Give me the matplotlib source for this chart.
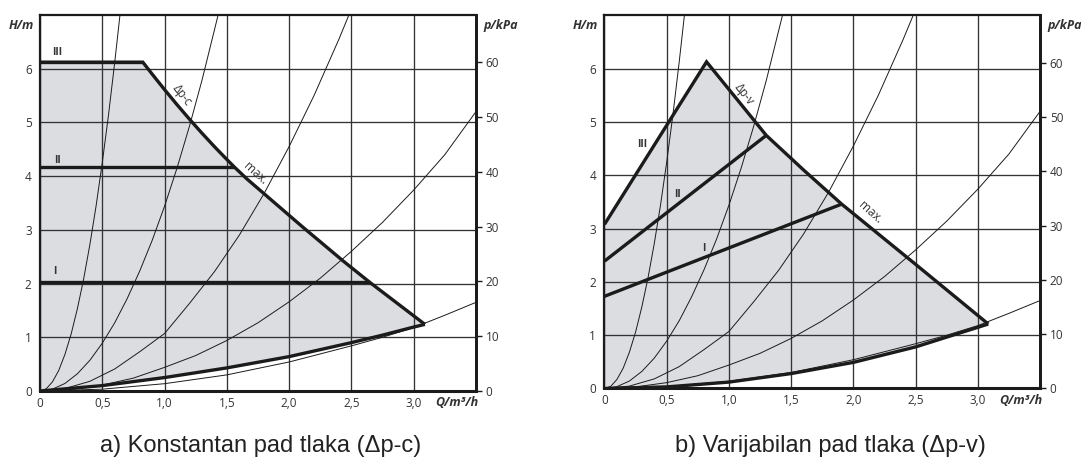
import matplotlib
matplotlib.use("Agg")
import matplotlib.pyplot as plt

# ---------------- data ----------------
q_ticks = [0, 0.5, 1.0, 1.5, 2.0, 2.5, 3.0]
q_labels = ["0", "0,5", "1,0", "1,5", "2,0", "2,5", "3,0"]
h_ticks = [0, 1, 2, 3, 4, 5, 6]
p_ticks = [0, 10, 20, 30, 40, 50, 60]

# thin system curves (Q m3/h, H m), shared by both panels
sys1_q = [0, 0.05, 0.10, 0.15, 0.20, 0.25, 0.30, 0.35, 0.40, 0.45, 0.50, 0.55, 0.60, 0.642]
sys1_h = [0, 0.04, 0.17, 0.38, 0.68, 1.06, 1.53, 2.08, 2.72, 3.44, 4.25, 5.14, 6.12, 7.0]
sys2_q = [0, 0.1, 0.2, 0.3, 0.4, 0.5, 0.6, 0.7, 0.8, 0.9, 1.0, 1.1, 1.2, 1.3, 1.43]
sys2_h = [0, 0.035, 0.14, 0.32, 0.57, 0.89, 1.27, 1.72, 2.23, 2.80, 3.44, 4.15, 4.93, 5.78, 7.0]
sys3_q = [0, 0.2, 0.4, 0.6, 0.8, 1.0, 1.2, 1.4, 1.6, 1.8, 2.0, 2.2, 2.4, 2.48]
sys3_h = [0, 0.045, 0.18, 0.41, 0.73, 1.07, 1.63, 2.22, 2.90, 3.68, 4.55, 5.50, 6.55, 7.0]
sys4_q = [0, 0.25, 0.5, 0.75, 1.0, 1.25, 1.5, 1.75, 2.0, 2.25, 2.5, 2.75, 3.0, 3.25, 3.5]
sys4_h = [0, 0.03, 0.11, 0.24, 0.44, 0.66, 0.94, 1.27, 1.66, 2.10, 2.60, 3.14, 3.74, 4.40, 5.20]
sys5_q = [0, 0.5, 1.0, 1.5, 2.0, 2.5, 2.75, 3.0, 3.25, 3.5]
sys5_h = [0, 0.034, 0.136, 0.30, 0.54, 0.84, 1.00, 1.18, 1.41, 1.65]

# panel a) constant differential pressure
a_low_q = [0, 0.5, 1.0, 1.5, 2.0, 2.5, 2.75, 3.0, 3.09]
a_low_h = [0, 0.10, 0.25, 0.43, 0.64, 0.90, 1.04, 1.19, 1.24]
a_max_q = [0.826, 0.9, 1.0, 1.1, 1.2, 1.3, 1.4, 1.5, 1.56, 1.66, 1.765,
           2.1, 2.434, 2.649, 3.09]
a_max_h = [6.12, 5.90, 5.61, 5.33, 5.06, 4.80, 4.55, 4.31, 4.17, 3.95, 3.74,
           3.07, 2.42, 2.02, 1.24]
a_lvl_h = [2.02, 4.17, 6.12]          # I, II, III
a_lvl_qend = [2.649, 1.56, 0.826]

# panel b) variable differential pressure
b_low_q = [0, 0.5, 1.0, 1.5, 2.0, 2.5, 3.084]
b_low_h = [0, 0.03, 0.12, 0.28, 0.49, 0.78, 1.21]
b_max_q = [0.82, 1.06, 1.30, 1.60, 1.906, 2.50, 3.084]
b_max_h = [6.13, 5.44, 4.75, 4.10, 3.46, 2.33, 1.21]
b_lvl_h0 = [1.73, 2.39, 3.08]         # I, II, III at Q=0
b_lvl_qend = [1.906, 1.30, 0.82]
b_lvl_hend = [3.46, 4.75, 6.13]

level_names = ["I", "II", "III"]

# ---------------- style ----------------
DARK = "#1b1b1b"
GRID = "#333333"
FILL = "#dcdde1"
TXT = "#333333"
TICKFONT = "Open Sans"

fig = plt.figure(figsize=(10.81, 4.62), dpi=100)


def base_axes(rect):
    ax = fig.add_axes(rect)
    ax.set_xlim(0, 3.5)
    ax.set_ylim(0, 7)
    ax.set_xticks(q_ticks)
    ax.set_xticklabels(q_labels, fontfamily=TICKFONT, fontsize=8.5, color=TXT)
    ax.set_yticks(h_ticks)
    ax.set_yticklabels([str(v) for v in h_ticks], fontfamily=TICKFONT,
                       fontsize=8.5, color=TXT)
    ax.tick_params(axis="both", length=0)
    ax.tick_params(axis="x", pad=4)
    ax.tick_params(axis="y", pad=6)
    ax.grid(True, color=GRID, lw=0.95)
    ax.set_axisbelow("line")
    for s, lw in (("left", 1.6), ("top", 1.6), ("bottom", 2.2), ("right", 2.0)):
        ax.spines[s].set_linewidth(lw)
        ax.spines[s].set_color(DARK)
    ax2 = ax.twinx()
    ax2.set_ylim(0, 7 * 9.81)
    ax2.set_yticks(p_ticks)
    ax2.set_yticklabels([str(v) for v in p_ticks], fontfamily=TICKFONT,
                        fontsize=8.5, color=TXT)
    ax2.tick_params(axis="y", length=4, width=1.0, pad=3, color=DARK)
    for s in ("left", "top", "bottom"):
        ax2.spines[s].set_visible(False)
    ax2.spines["right"].set_linewidth(2.0)
    ax2.spines["right"].set_color(DARK)

    # thin system curves
    for qq, hh in ((sys1_q, sys1_h), (sys2_q, sys2_h), (sys3_q, sys3_h),
                   (sys4_q, sys4_h), (sys5_q, sys5_h)):
        ax.plot(qq, hh, color=DARK, lw=0.7, zorder=2, solid_capstyle="butt",
                solid_joinstyle="round")

    ax.text(-0.015, 0.972, "H/m", transform=ax.transAxes, ha="right",
            va="center", fontsize=9, fontweight="bold", fontstyle="italic",
            color=TXT, fontfamily=TICKFONT)
    ax.text(1.016, 0.972, "p/kPa", transform=ax.transAxes, ha="left",
            va="center", fontsize=9, fontweight="bold", fontstyle="italic",
            color=TXT, fontfamily=TICKFONT)
    ax.text(3.344, -0.22, "Q/m³/h", ha="center", va="center", fontsize=9,
            fontweight="bold", fontstyle="italic", color=TXT,
            fontfamily=TICKFONT, clip_on=False)
    return ax


thick = dict(color=DARK, lw=2.4, zorder=3, solid_joinstyle="miter",
             solid_capstyle="butt")
lblkw = dict(fontsize=7.5, color=TXT, fontfamily=TICKFONT, zorder=4,
             fontweight="bold", ha="center", va="center")
curvelbl = dict(fontsize=8.5, color=TXT, fontfamily=TICKFONT, zorder=4,
                ha="center", va="center")

# ---------- panel a ----------
axa = base_axes([0.0370, 0.1537, 0.4033, 0.8139])
top_q = [0] + a_max_q
top_h = [a_max_h[0]] + a_max_h
fill_q = top_q + a_low_q[::-1]
fill_h = top_h + a_low_h[::-1]
axa.fill(fill_q, fill_h, color=FILL, lw=0, zorder=1)
axa.plot(top_q, top_h, **thick)
axa.plot(a_low_q, a_low_h, **thick)
for h, qe in zip(a_lvl_h, a_lvl_qend):
    axa.plot([0, qe], [h, h], **thick)
axa.text(0.14, 6.30, "III", **lblkw)
axa.text(0.14, 4.30, "II", **lblkw)
axa.text(0.12, 2.22, "I", **lblkw)
axa.text(1.14, 5.50, "Δp-c", rotation=-52, **curvelbl)
axa.text(1.73, 4.06, "max.", rotation=-42, **curvelbl)

# ---------- panel b ----------
axb = base_axes([0.5592, 0.1591, 0.4029, 0.8074])
top_q = [0] + b_max_q
top_h = [b_lvl_h0[2]] + b_max_h
fill_q = top_q + b_low_q[::-1]
fill_h = top_h + b_low_h[::-1]
axb.fill(fill_q, fill_h, color=FILL, lw=0, zorder=1)
axb.plot(top_q, top_h, **thick)
axb.plot(b_low_q, b_low_h, **thick)
for h0, qe, he in zip(b_lvl_h0[:2], b_lvl_qend[:2], b_lvl_hend[:2]):
    axb.plot([0, qe], [h0, he], **thick)
axb.text(0.30, 4.57, "III", **lblkw)
axb.text(0.59, 3.64, "II", **lblkw)
axb.text(0.80, 2.62, "I", **lblkw)
axb.text(1.12, 5.52, "Δp-v", rotation=-52, **curvelbl)
axb.text(2.14, 3.30, "max.", rotation=-42, **curvelbl)

# ---------- captions ----------
fig.text(0.241, 0.035, "a) Konstantan pad tlaka (Δp-c)", ha="center",
         va="center", fontsize=17, color="#222222", fontfamily="Liberation Sans")
fig.text(0.768, 0.035, "b) Varijabilan pad tlaka (Δp-v)", ha="center",
         va="center", fontsize=17, color="#222222", fontfamily="Liberation Sans")

fig.savefig("out.png", dpi=100)
